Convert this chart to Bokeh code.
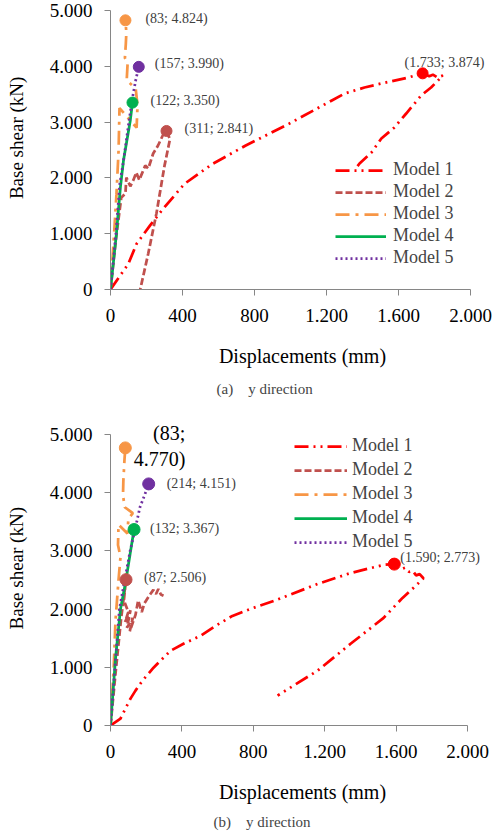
from bokeh.plotting import figure
from bokeh.layouts import column
from bokeh.models import Range1d, FixedTicker, Legend, LegendItem, Title, Label
from bokeh.embed import file_html
from bokeh.resources import INLINE

FONT = "Liberation Serif"

model_names = ["Model 1", "Model 2", "Model 3", "Model 4", "Model 5"]
colors = ["#FF0000", "#C0504D", "#F79646", "#00B050", "#7030A0"]
dashes = ["14 5 2 5 2 5", "7 3", "14 6 3 6", "solid", "2 3"]

x_ticks = [0, 400, 800, 1200, 1600, 2000]
x_tick_labels = ["0", "400", "800", "1.200", "1.600", "2.000"]
y_ticks = [0, 1000, 2000, 3000, 4000, 5000]
y_tick_labels = ["0", "1.000", "2.000", "3.000", "4.000", "5.000"]
x_max, y_max = 2000, 5000

# ---- (a) pushover curves: displacement (mm) / base shear (kN) ----
a_m1_x = [0, 99, 145, 220, 292, 411, 567, 751, 990, 1229, 1300, 1410, 1504, 1653, 1733,
          1770, 1790, 1815, 1846, 1780, 1725, 1642, 1576, 1504, 1449, 1383, 1366]
a_m1_y = [0, 460, 819, 1150, 1446, 1894, 2252, 2580, 2968, 3387, 3512, 3620, 3692, 3799, 3874,
          3820, 3850, 3800, 3835, 3620, 3477, 3154, 2903, 2706, 2455, 2258, 2186]
a_m2_x = [0, 30, 60, 83, 88, 110, 127, 143, 160, 171, 193, 210, 237, 264, 290, 311,
          322, 330, 300, 255, 210, 165]
a_m2_y = [0, 900, 1650, 1720, 2007, 1850, 1960, 2097, 1960, 2050, 2222, 2168, 2437, 2581, 2760, 2841,
          2760, 2690, 2220, 1362, 650, 0]
a_m3_x = [0, 20, 33, 45, 50, 145, 150, 140, 90, 95, 80, 85, 88, 83]
a_m3_y = [0, 1000, 1700, 2500, 3250, 2900, 3300, 3600, 3750, 4050, 4150, 4400, 4600, 4824]
a_m4_x = [0, 33, 55, 72, 110, 122]
a_m4_y = [0, 1000, 1830, 2310, 3030, 3350]
a_m5_x = [0, 30, 52, 72, 100, 120, 140, 157]
a_m5_y = [0, 1000, 1900, 2300, 2950, 3400, 3750, 3990]
a_peak_x = [1733, 311, 83, 122, 157]
a_peak_y = [3874, 2841, 4824, 3350, 3990]

# ---- (b) pushover curves ----
b_m1_x = [0, 56, 112, 140, 179, 241, 291, 336, 409, 504, 588, 683, 784, 915, 1160, 1345, 1530, 1590,
          1612, 1632, 1650, 1672, 1692, 1712, 1732, 1753, 1709, 1636, 1530, 1345, 1160, 936]
b_m1_y = [0, 120, 462, 599, 770, 993, 1147, 1284, 1404, 1541, 1712, 1883, 2003, 2140, 2431, 2620, 2760, 2773,
          2740, 2690, 2710, 2640, 2660, 2580, 2600, 2530, 2397, 2192, 1849, 1404, 942, 514]
b_m2_x = [0, 30, 60, 87, 75, 100, 82, 112, 92, 125, 108, 140, 155, 175, 190, 215, 240, 255, 268, 282, 297]
b_m2_y = [0, 950, 1850, 2506, 2150, 1950, 1780, 1980, 1680, 1850, 1620, 1900, 2150, 1950, 2100, 2220,
          2330, 2260, 2345, 2250, 2230]
b_m3_x = [0, 18, 28, 45, 56, 42, 45, 95, 100, 125, 80, 70, 72, 78, 83]
b_m3_y = [0, 1000, 1800, 2500, 2900, 3100, 3450, 3300, 3550, 3650, 3750, 3950, 4200, 4550, 4770]
b_m4_x = [0, 28, 56, 84, 110, 132]
b_m4_y = [0, 1147, 2003, 2448, 2950, 3367]
b_m5_x = [0, 25, 50, 80, 110, 140, 165, 190, 214]
b_m5_y = [0, 1000, 2000, 2500, 3000, 3400, 3750, 3950, 4151]
b_peak_x = [1590, 87, 83, 132, 214]
b_peak_y = [2773, 2506, 4770, 3367, 4151]


def fmt(v):
    return f"{v:,}".replace(",", ".")


def peak_label(x, y):
    return f"({fmt(x)}; {fmt(y)})"


def make_panel(height, axis_px, bottom_border, series, peak_x, peak_y, label_offsets, marker_size,
               legend_loc, legend_spacing, glyph_w, standoff, caption, caption_offset,
               caption_standoff, ylabel, big_label=None):
    # axis_px: pixel positions of x=0, x=x_max, y=y_max, y=0 inside this figure
    x0_px, xmax_px, ymax_px, y0_px = axis_px
    frame_right = 494
    # the frame reaches past the last ticks so edge labels are not clipped
    x_end = x_max * (frame_right - x0_px) / (xmax_px - x0_px)
    y_end = y_max * y0_px / (y0_px - ymax_px)
    p = figure(width=496, height=height, x_range=Range1d(0, x_end), y_range=Range1d(0, y_end),
               output_backend="svg", toolbar_location=None,
               min_border_left=x0_px, min_border_right=496 - frame_right,
               min_border_top=0, min_border_bottom=bottom_border)
    p.grid.visible = False
    p.outline_line_color = None
    p.background_fill_color = "white"

    for ax, ticks, labels, bnd in ((p.xaxis[0], x_ticks, x_tick_labels, (0, x_max)),
                                   (p.yaxis[0], y_ticks, y_tick_labels, (0, y_max))):
        ax.ticker = FixedTicker(ticks=ticks, minor_ticks=[])
        ax.major_label_overrides = dict(zip(ticks, labels))
        ax.bounds = bnd
        ax.axis_line_color = "#868686"
        ax.major_tick_line_color = "#868686"
        ax.major_tick_out = 6
        ax.major_tick_in = 0
        ax.minor_tick_line_color = None
        ax.major_label_text_font = FONT
        ax.major_label_text_font_size = "19px"
        ax.major_label_text_color = "black"
        ax.axis_label_text_font = FONT
        ax.axis_label_text_font_style = "normal"
        ax.axis_label_text_color = "black"
    p.xaxis.major_label_standoff = 13
    p.yaxis.major_label_standoff = 12
    p.xaxis.axis_label = "Displacements (mm)"
    p.xaxis.axis_label_text_font_size = "20px"
    p.xaxis.axis_label_standoff = 20
    p.yaxis.axis_label = ylabel
    p.yaxis.axis_label_text_font_size = "19px"
    p.yaxis.axis_label_standoff = 20

    renderers = []
    for (xs, ys), c, d in zip(series, colors, dashes):
        r = p.line(xs, ys, line_color=c, line_width=2.75, line_dash=d)
        renderers.append(r)
    p.scatter(peak_x, peak_y, size=marker_size, color=colors, line_color=colors)

    # value labels at the peak of each curve
    for i, (px, py) in enumerate(zip(peak_x, peak_y)):
        dx, dy = label_offsets[i]
        if big_label is not None and i == big_label:
            p.add_layout(Label(x=px, y=py, text=f"({fmt(px)};\n{fmt(py)})", x_offset=dx, y_offset=dy,
                               text_font=FONT, text_font_size="20px", text_color="black",
                               text_align="right", text_baseline="middle"))
        else:
            p.add_layout(Label(x=px, y=py, text=peak_label(px, py), x_offset=dx, y_offset=dy,
                               text_font=FONT, text_font_size="14px", text_color="#404040",
                               text_align="left", text_baseline="middle"))

    legend = Legend(items=[LegendItem(label=n, renderers=[r]) for n, r in zip(model_names, renderers)],
                    location=legend_loc, background_fill_alpha=0, border_line_color=None,
                    padding=0, margin=0, spacing=legend_spacing, glyph_width=glyph_w, glyph_height=20,
                    label_height=20, label_standoff=standoff, label_text_font=FONT,
                    label_text_font_size="18px")
    p.add_layout(legend)

    p.add_layout(Title(text=caption, align="left", offset=caption_offset, text_font=FONT,
                       text_font_size="15px", text_font_style="normal",
                       standoff=caption_standoff), "below")
    return p


top = make_panel(
    420, (107, 470, 10, 289), 131,
    [(a_m1_x, a_m1_y), (a_m2_x, a_m2_y), (a_m3_x, a_m3_y), (a_m4_x, a_m4_y), (a_m5_x, a_m5_y)],
    a_peak_x, a_peak_y,
    [(-18, 11), (18, 2), (20, 2), (18, 2), (16, 3)], 11,
    (225, 21), 1, 51, 7, "(a)\u00a0\u00a0\u00a0\u00a0y direction", 106, 18,
    "\u00a0\u00a0\u00a0Base shear (kN)")

bottom = make_panel(
    418, (110, 467, 14, 305), 113,
    [(b_m1_x, b_m1_y), (b_m2_x, b_m2_y), (b_m3_x, b_m3_y), (b_m4_x, b_m4_y), (b_m5_x, b_m5_y)],
    b_peak_x, b_peak_y,
    [(6, 7), (18, 2), (60, 2), (16, 1), (18, 0)], 12,
    (184, 173), 3, 53, 5, "(b)\u00a0\u00a0\u00a0\u00a0y direction", 103, 12,
    "\u00a0\u00a0Base shear (kN)", big_label=2)

layout = column(top, bottom, spacing=0)
open("out.html", "w").write(file_html(layout, INLINE))
